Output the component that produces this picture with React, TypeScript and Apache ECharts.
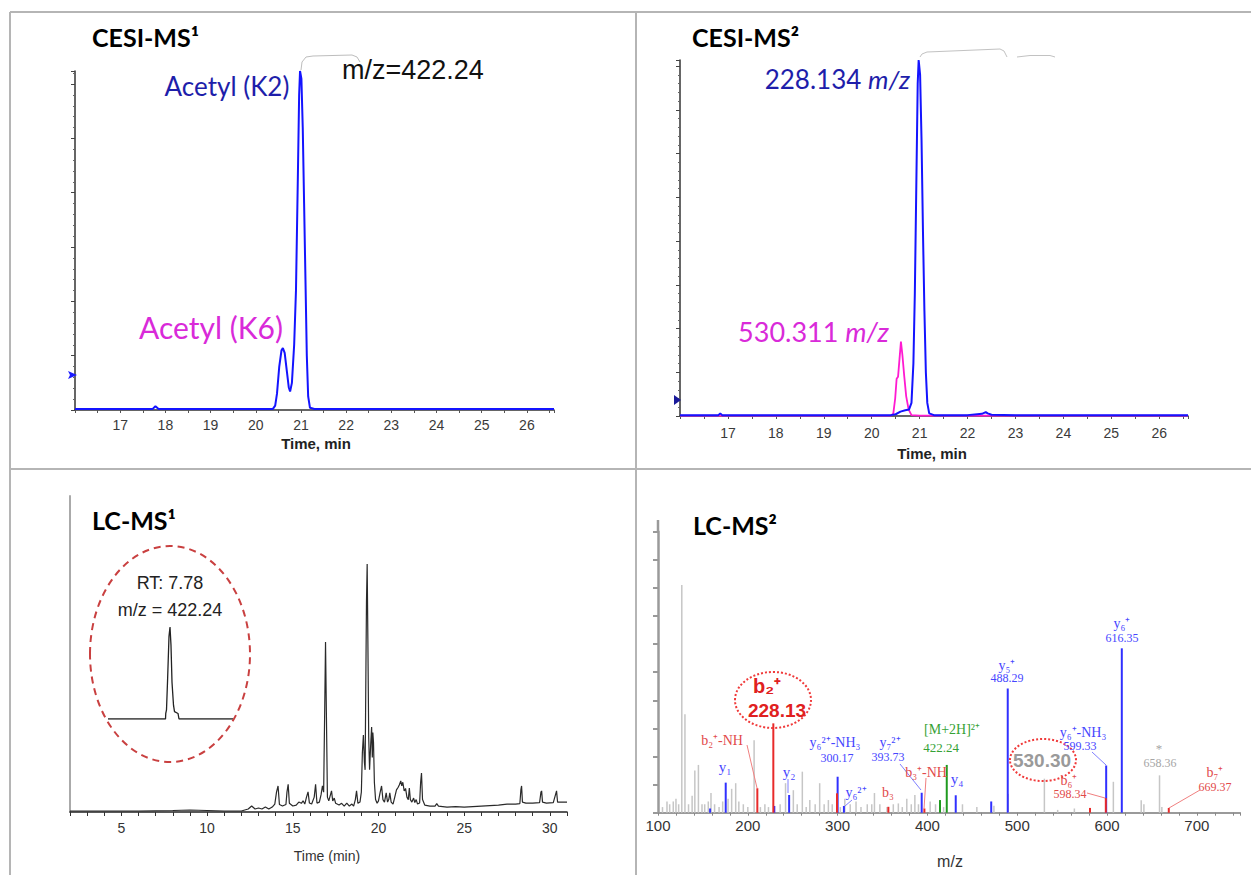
import React, { useEffect, useRef } from "react";
import * as echarts from "echarts";

// ---------- DATA ----------
// CESI-MS1 extracted ion trace (time min, intensity in major-tick units)
const cesi1Trace: number[][] = [
  [16.0, 0.02], [16.5, 0.02], [17.0, 0.02], [17.5, 0.02], [17.72, 0.02], [17.78, 0.07], [17.85, 0.02],
  [18.5, 0.02], [19.0, 0.02], [19.5, 0.02], [20.0, 0.02], [20.38, 0.02], [20.43, 0.08], [20.47, 0.3],
  [20.52, 0.8], [20.57, 1.1], [20.6, 1.14], [20.64, 1.05], [20.69, 0.7], [20.73, 0.42], [20.76, 0.34],
  [20.8, 0.5], [20.85, 1.2], [20.89, 2.2], [20.93, 4.2], [20.96, 5.8], [20.98, 6.24], [21.01, 6.1],
  [21.04, 5.2], [21.07, 3.8], [21.1, 2.4], [21.13, 1.0], [21.16, 0.25], [21.2, 0.04], [21.3, 0.02],
  [22.0, 0.02], [23.0, 0.02], [24.0, 0.02], [25.0, 0.02], [26.0, 0.02], [26.6, 0.02],
];
// CESI-MS2 fragment traces
const cesi2Blue228: number[][] = [
  [16.0, 0.02], [16.5, 0.02], [16.8, 0.02], [16.84, 0.06], [16.88, 0.02], [17.5, 0.02], [18.0, 0.02],
  [19.0, 0.02], [20.0, 0.02], [20.4, 0.02], [20.5, 0.04], [20.6, 0.1], [20.7, 0.13], [20.78, 0.15],
  [20.83, 0.3], [20.87, 1.2], [20.9, 2.8], [20.93, 5.2], [20.96, 7.6], [20.98, 8.14], [21.01, 7.8],
  [21.04, 6.3], [21.07, 4.2], [21.1, 2.4], [21.13, 1.0], [21.16, 0.3], [21.2, 0.06], [21.3, 0.02],
  [22.0, 0.02], [22.2, 0.04], [22.3, 0.05], [22.38, 0.09], [22.42, 0.06], [22.5, 0.03], [23.0, 0.02],
  [24.0, 0.02], [25.0, 0.02], [26.0, 0.02], [26.6, 0.02],
];
const cesi2Magenta530: number[][] = [
  [16.0, 0.01], [18.0, 0.01], [20.0, 0.01], [20.4, 0.01], [20.45, 0.05], [20.49, 0.4], [20.52, 0.85],
  [20.55, 0.9], [20.58, 1.3], [20.61, 1.7], [20.64, 1.4], [20.68, 0.9], [20.72, 0.45], [20.77, 0.15],
  [20.83, 0.02], [21.0, 0.01], [23.0, 0.01], [26.6, 0.01],
];
// LC-MS1 base peak chromatogram (time min, % of highest peak)
const lcTrace: number[][] = [
  [2, 0.4], [4, 0.4], [6, 0.4], [8, 0.6], [9, 0.8], [10, 0.6], [11, 0.4], [12, 0.4],
  [12.4, 1.2], [12.6, 2.4], [12.8, 1.2], [13.0, 1.6], [13.2, 1.2], [13.4, 2], [13.6, 1.2], [13.8, 2],
  [13.95, 3.2], [14.05, 8], [14.14, 10.5], [14.22, 3], [14.4, 2.4], [14.6, 3], [14.66, 8], [14.73, 11.2],
  [14.8, 3.5], [15.0, 2.4], [15.2, 2.8], [15.35, 4], [15.5, 3.5], [15.6, 4.5], [15.7, 3.2], [15.8, 6],
  [15.89, 8.1], [15.97, 3.6], [16.1, 3.2], [16.25, 6], [16.33, 11.2], [16.41, 3.6], [16.55, 4], [16.65, 7],
  [16.73, 10.5], [16.8, 8], [16.86, 40], [16.91, 68.5], [16.96, 40], [17.02, 6], [17.1, 4.5], [17.2, 7],
  [17.26, 8.5], [17.33, 4.5], [17.42, 5.6], [17.5, 3.5], [17.7, 2.8], [17.85, 3.5], [18.0, 2.4],
  [18.15, 3.6], [18.3, 2.4], [18.45, 3.2], [18.55, 2.4], [18.65, 5], [18.72, 8.5], [18.8, 3.5],
  [18.92, 4], [19.0, 8], [19.06, 24], [19.12, 31], [19.18, 20], [19.22, 17], [19.27, 60], [19.3, 85],
  [19.34, 100], [19.38, 70], [19.43, 30], [19.48, 17], [19.55, 28], [19.6, 34.3], [19.64, 22],
  [19.67, 32], [19.71, 28], [19.76, 12], [19.83, 5], [19.92, 3.5], [20.0, 4.5], [20.1, 8], [20.18, 10.5],
  [20.26, 5], [20.35, 4], [20.45, 7.7], [20.53, 4], [20.6, 5], [20.66, 7.7], [20.74, 4], [20.85, 3.2],
  [20.95, 6], [21.05, 8.9], [21.15, 10], [21.22, 11], [21.3, 12.5], [21.36, 10.5], [21.42, 12],
  [21.5, 8.5], [21.58, 9.5], [21.66, 6], [21.74, 5], [21.8, 9.7], [21.86, 5], [21.95, 4], [22.05, 5.6],
  [22.12, 3.8], [22.2, 5], [22.28, 3.2], [22.4, 3.6], [22.46, 12], [22.51, 15.7], [22.57, 5],
  [22.7, 2.8], [23.0, 2.4], [23.3, 2.4], [23.4, 3.4], [23.5, 2.4], [24, 2], [24.5, 2.2], [25, 2],
  [25.5, 2.2], [26, 2.4], [26.5, 2.6], [27, 2.8], [27.5, 3.2], [28, 3.2], [28.25, 3.4], [28.31, 9],
  [28.35, 10.5], [28.4, 4], [28.6, 3.6], [29, 3.6], [29.4, 3.8], [29.48, 8], [29.52, 8.5], [29.57, 4],
  [29.8, 3.6], [30.2, 3.8], [30.33, 7], [30.39, 8.5], [30.45, 4], [30.7, 4], [31, 4],
];
// LC-MS1 inset: extracted ion m/z 422.24, RT 7.78
const lcInsetTrace: number[][] = [
  [5.3, 0], [7.6, 0], [7.61, 6], [7.64, 10], [7.68, 40], [7.74, 90], [7.78, 100], [7.82, 80],
  [7.86, 40], [7.92, 15], [7.96, 8], [8.1, 6], [8.14, 0], [10.3, 0],
];
// LC-MS2 spectrum sticks (m/z, relative intensity)
const grayPeaks: number[][] = [
  [105, 2], [110, 4], [113, 3], [117, 4], [120, 5], [123, 3], [126.5, 81], [130, 35], [134, 3], [138, 6],
  [141, 15], [145, 17], [149, 3], [152, 3], [156, 4], [159, 7], [163, 3], [168, 2], [172, 4], [178, 5],
  [182, 8.5], [186.5, 10.5], [190, 4], [195, 3], [200, 2], [207, 25.8], [214, 2], [219, 3], [223, 2],
  [236, 3], [242, 10.5], [250.7, 8], [255, 3], [260.7, 14.6], [265, 2], [269, 4.5], [275, 3], [280, 10.5],
  [285, 3], [289.7, 4.5], [294, 3], [303, 2], [308, 5], [314, 3], [320.5, 4], [326, 2], [333, 3],
  [338, 3], [341, 7], [347, 3], [355, 2], [362, 3], [367.6, 3.3], [372, 2], [377, 5], [382, 3],
  [386, 6.3], [390, 3], [403, 4], [409, 3], [418, 2], [439, 3], [455, 2], [474, 2.5], [490, 6.7],
  [530.2, 12.1], [545, 1], [563.6, 1.5], [607, 11], [638, 4.4], [641, 3], [658.4, 13.3], [661, 2],
];
const bluePeaks: number[][] = [
  [158, 1.5], [175.4, 10.7], [229.5, 2.4], [246, 6.3], [300, 12.8], [307, 2.4], [393.6, 7.1],
  [431.5, 6.2], [471, 4], [489.4, 44.2], [599, 16.8], [616.4, 58.5],
];
const redPeaks: number[][] = [
  [210.6, 8.7], [228.4, 31.8], [299.3, 6.9], [356.5, 2.1], [396.6, 1.5], [581, 1.7], [598.6, 5.2], [668.7, 1.7],
];
const greenPeaks: number[][] = [[414, 4.5], [421.5, 17]];

// ---------- STYLE HELPERS ----------
const SANS = "'Liberation Sans', Arial, sans-serif";
const SERIF = "'Liberation Serif', 'Times New Roman', serif";
const CAL = "Lato, 'Open Sans', sans-serif";
const BLUE_T = "#4646ff";
const RED_T = "#e24a4a";
const GREEN_T = "#36a236";
const GRAY_T = "#a6a6a6";

function txt(x: number, y: number, text: string, size: number, fill: string, o: any = {}) {
  return {
    type: "text", x, y, z: 100,
    style: {
      text, fill, fontSize: size, fontFamily: o.family || SERIF, fontWeight: o.weight || "normal",
      fontStyle: o.style || "normal", align: o.align || "center", verticalAlign: "middle",
      textAlign: o.align || "center", textVerticalAlign: "middle", rich: o.rich,
    },
  };
}
function seg(x1: number, y1: number, x2: number, y2: number, stroke: string, w = 1) {
  return { type: "line", z: 90, shape: { x1, y1, x2, y2 }, style: { stroke, lineWidth: w } };
}
function ell(cx: number, cy: number, rx: number, ry: number, stroke: string, w: number, dash: number[]) {
  return { type: "ellipse", z: 95, shape: { cx, cy, rx, ry }, style: { fill: "none", stroke, lineWidth: w, lineDash: dash } };
}
function stick(color: string, width: number) {
  return (_p: any, api: any) => {
    const mz = api.value(0);
    const h = api.value(1);
    const a = api.coord([mz, 0]);
    const b = api.coord([mz, h]);
    return { type: "line", shape: { x1: a[0], y1: a[1], x2: b[0], y2: b[1] }, style: { stroke: color, lineWidth: width } };
  };
}

const cesiX = (grid: number, margin: number) => ({
  type: "value", gridIndex: grid, min: 16, max: 26.6, interval: 0.5,
  axisLine: { show: true, lineStyle: { color: "#333", width: 1.5 } },
  axisTick: { show: true, length: 3, lineStyle: { color: "#555" } },
  splitLine: { show: false },
  axisLabel: {
    margin, fontSize: 14, color: "#3a3a3a", fontFamily: SANS,
    formatter: (v: number) => (Math.abs(v - Math.round(v)) < 1e-6 && v >= 17 && v <= 26 ? String(Math.round(v)) : ""),
  },
});
const cesiY = (grid: number, max: number) => ({
  type: "value", gridIndex: grid, min: 0, max, interval: 1,
  axisLine: { show: true, lineStyle: { color: "#333", width: 1.5 } },
  axisTick: { show: true, length: 4, lineStyle: { color: "#444" } },
  minorTick: { show: true, splitNumber: 5, length: 2, lineStyle: { color: "#666" } },
  axisLabel: { show: false }, splitLine: { show: false },
});

export default function App() {
  const ref = useRef<HTMLDivElement>(null);
  useEffect(() => {
    if (!ref.current) return;
    const chart = echarts.init(ref.current, null, { renderer: "svg" });
    const border = "#b5b5b5";
    const graphic: any[] = [
      // panel frame
      seg(10, 12, 1251, 12, border, 2), seg(10, 12, 10, 875, border, 2),
      seg(636, 12, 636, 875, border, 2), seg(10, 469, 1251, 469, border, 2),
      // titles
      txt(92, 37, "CESI-MS¹", 25, "#000", { family: CAL, weight: "bold", align: "left" }),
      txt(692, 37, "CESI-MS²", 25, "#000", { family: CAL, weight: "bold", align: "left" }),
      txt(92, 520, "LC-MS¹", 25, "#000", { family: CAL, weight: "bold", align: "left" }),
      txt(693, 525, "LC-MS²", 25, "#000", { family: CAL, weight: "bold", align: "left" }),
      // panel 1 annotations
      txt(227, 86, "Acetyl (K2)", 26, "#1e1eaa", { family: CAL }),
      txt(211, 327, "Acetyl (K6)", 30, "#d92ad9", { family: CAL }),
      txt(342, 70, "m/z=422.24", 27, "#111", { family: SANS, align: "left" }),
      { type: "polyline", z: 90, shape: { points: [[301, 70], [302, 62], [306, 57], [313, 56], [352, 55], [357, 57], [360, 62]] }, style: { stroke: "#bdbdbd", fill: "none", lineWidth: 1 } },
      { type: "polygon", z: 90, shape: { points: [[68, 371], [77, 375], [68, 379], [70, 375]] }, style: { fill: "#1a1aff" } },
      txt(316, 443, "Time, min", 15, "#222", { family: SANS, weight: "bold" }),
      // panel 2 annotations
      txt(910, 79, "{a|228.134 }{b|m/z}", 26, "#1e1eaa", {
        family: CAL, align: "right",
        rich: { a: { fontSize: 26, fontFamily: CAL, fill: "#1e1eaa" }, b: { fontSize: 26, fontFamily: CAL, fontStyle: "italic", fill: "#1e1eaa" } },
      }),
      txt(889, 331, "{a|530.311 }{b|m/z}", 27, "#d92ad9", {
        family: CAL, align: "right",
        rich: { a: { fontSize: 27, fontFamily: CAL, fill: "#d92ad9" }, b: { fontSize: 27, fontFamily: CAL, fontStyle: "italic", fill: "#d92ad9" } },
      }),
      { type: "polyline", z: 90, shape: { points: [[920, 57], [922, 54], [927, 52], [1000, 49], [1004, 51], [1007, 57]] }, style: { stroke: "#c2c2c2", fill: "none", lineWidth: 1 } },
      { type: "polyline", z: 90, shape: { points: [[1017, 57], [1030, 55.5], [1050, 55.5], [1055, 57]] }, style: { stroke: "#c2c2c2", fill: "none", lineWidth: 1 } },
      { type: "polygon", z: 90, shape: { points: [[674, 395], [681, 400], [674, 405]] }, style: { fill: "#1a1a9a" } },
      txt(932, 453, "Time, min", 15, "#222", { family: SANS, weight: "bold" }),
      // panel 3 annotations
      ell(170, 654, 80, 108, "#c94040", 2, [7, 5]),
      txt(170, 583, "RT: 7.78", 18, "#222", { family: SANS }),
      txt(170, 610, "m/z = 422.24", 18, "#222", { family: SANS }),
      txt(327, 856, "Time (min)", 14, "#333", { family: SANS }),
      // panel 4 annotations
      seg(658, 520, 658, 532, "#9a9a9a", 2.5),
      txt(950, 861, "m/z", 16, "#333", { family: SANS }),
      ell(773, 700, 38, 28, "#f03a3a", 2, [2, 2]),
      txt(767, 686, "b₂⁺", 20, "#e02020", { family: SANS, weight: "bold" }),
      txt(777, 710, "228.13", 19, "#e02020", { family: SANS, weight: "bold" }),
      txt(722, 740, "b₂⁺-NH", 14, RED_T), seg(747, 745, 757, 788, "#f08080", 1),
      txt(725, 767, "y₁", 15, BLUE_T),
      txt(789, 772, "y₂", 15, BLUE_T), seg(788, 779, 788, 793, "#8080ff", 1),
      txt(835, 742, "y₆²⁺-NH₃", 14, BLUE_T), txt(837, 758, "300.17", 12, BLUE_T),
      txt(856, 792, "y₆²⁺", 14, BLUE_T), seg(845, 806, 852, 800, "#8080ff", 1),
      txt(888, 792, "b₃", 14, RED_T),
      txt(890, 742, "y₇²⁺", 14, BLUE_T), txt(888, 757, "393.73", 12, BLUE_T), seg(900, 764, 921, 790, "#8080ff", 1),
      txt(926, 772, "b₃⁺-NH", 14, RED_T), seg(926, 778, 924, 809, "#f08080", 1),
      txt(952, 729, "[M+2H]²⁺", 14, GREEN_T), txt(941, 747, "422.24", 13, GREEN_T),
      txt(957, 779, "y₄", 15, BLUE_T),
      txt(1007, 665, "y₅⁺", 14, BLUE_T), txt(1007, 678, "488.29", 12, BLUE_T),
      txt(1122, 623, "y₆⁺", 14, BLUE_T), txt(1122, 638, "616.35", 12, BLUE_T),
      txt(1083, 732, "y₆⁺-NH₃", 14, BLUE_T), txt(1080, 746, "599.33", 12, BLUE_T), seg(1092, 752, 1106, 765, "#8080ff", 1),
      ell(1043, 760, 33, 21, "#f03a3a", 2, [2, 2]),
      txt(1042, 760, "530.30", 19, "#9a9a9a", { family: SANS, weight: "bold" }),
      txt(1069, 780, "b₆⁺", 14, RED_T), txt(1070, 794, "598.34", 12, RED_T), seg(1087, 793, 1105, 798, "#f08080", 1),
      txt(1159, 748, "*", 13, GRAY_T), txt(1160, 763, "658.36", 12, GRAY_T),
      txt(1215, 772, "b₇⁺", 14, RED_T), txt(1215, 787, "669.37", 12, RED_T), seg(1200, 790, 1169, 808, "#f08080", 1),
    ];

    const option: any = {
      animation: false,
      backgroundColor: "#fff",
      grid: [
        { left: 75, top: 71, width: 479, height: 339, outerBoundsMode: "none" },
        { left: 680, top: 60, width: 508, height: 356, outerBoundsMode: "none" },
        { left: 70, top: 496, width: 497, height: 316, outerBoundsMode: "none" },
        { left: 108, top: 627, width: 125, height: 92, outerBoundsMode: "none" },
        { left: 658, top: 531.7, width: 582, height: 281, outerBoundsMode: "none" },
      ],
      xAxis: [
        cesiX(0, 8),
        cesiX(1, 10),
        {
          type: "value", gridIndex: 2, min: 2, max: 31, interval: 1,
          axisLine: { show: true, lineStyle: { color: "#222", width: 1.5 } },
          axisTick: { show: true, length: 4, lineStyle: { color: "#333" } },
          splitLine: { show: false },
          axisLabel: { margin: 9, fontSize: 14, color: "#333", fontFamily: SANS, formatter: (v: number) => (v % 5 === 0 ? String(v) : "") },
        },
        { type: "value", gridIndex: 3, min: 5.3, max: 10.3, show: false, splitLine: { show: false } },
        {
          type: "value", gridIndex: 4, min: 100, max: 748, interval: 20,
          axisLine: { show: true, lineStyle: { color: "#9a9a9a", width: 2 } },
          axisTick: { show: true, length: 3, lineStyle: { color: "#888" } },
          splitLine: { show: false },
          axisLabel: { margin: 5, fontSize: 15, color: "#333", fontFamily: SANS, formatter: (v: number) => (v % 100 === 0 ? String(v) : "") },
        },
      ],
      yAxis: [
        cesiY(0, 6.24),
        cesiY(1, 8.14),
        {
          type: "value", gridIndex: 2, min: 0, max: 127.4,
          axisLine: { show: true, lineStyle: { color: "#aaa", width: 2 } },
          axisTick: { show: false }, axisLabel: { show: false }, splitLine: { show: false },
        },
        { type: "value", gridIndex: 3, min: 0, max: 100, show: false, splitLine: { show: false } },
        {
          type: "value", gridIndex: 4, min: 0, max: 100, interval: 10,
          axisLine: { show: true, lineStyle: { color: "#9a9a9a", width: 2.5 } },
          axisTick: { show: true, length: 5, lineStyle: { color: "#999", width: 2 } },
          axisLabel: { show: false }, splitLine: { show: false },
        },
      ],
      series: [
        { type: "line", xAxisIndex: 0, yAxisIndex: 0, data: cesi1Trace, showSymbol: false, lineStyle: { color: "#1414ff", width: 2 } },
        { type: "line", xAxisIndex: 1, yAxisIndex: 1, data: cesi2Magenta530, showSymbol: false, lineStyle: { color: "#ff1ad1", width: 1.8 } },
        { type: "line", xAxisIndex: 1, yAxisIndex: 1, data: cesi2Blue228, showSymbol: false, lineStyle: { color: "#1414ff", width: 2 } },
        { type: "line", xAxisIndex: 2, yAxisIndex: 2, data: lcTrace, showSymbol: false, lineStyle: { color: "#2a2a2a", width: 1.2 } },
        { type: "line", xAxisIndex: 3, yAxisIndex: 3, data: lcInsetTrace, showSymbol: false, lineStyle: { color: "#222", width: 1.3 } },
        { type: "custom", xAxisIndex: 4, yAxisIndex: 4, data: grayPeaks, renderItem: stick("#c6c6c6", 1.5), encode: { x: 0, y: 1 } },
        { type: "custom", xAxisIndex: 4, yAxisIndex: 4, data: bluePeaks, renderItem: stick("#3030ff", 2), encode: { x: 0, y: 1 } },
        { type: "custom", xAxisIndex: 4, yAxisIndex: 4, data: redPeaks, renderItem: stick("#e82a2a", 2), encode: { x: 0, y: 1 } },
        { type: "custom", xAxisIndex: 4, yAxisIndex: 4, data: greenPeaks, renderItem: stick("#1f9a1f", 2), encode: { x: 0, y: 1 } },
      ],
      graphic,
    };
    chart.setOption(option);
    return () => chart.dispose();
  }, []);
  return (
    <div
      ref={ref}
      style={{ position: "fixed", left: 0, top: 0, width: 1251, height: 875, background: "#fff" }}
    />
  );
}
